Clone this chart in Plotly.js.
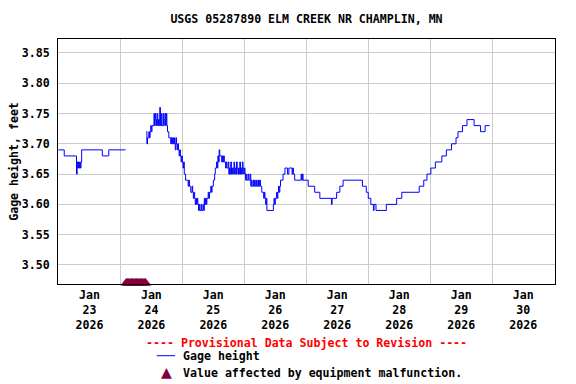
<!DOCTYPE html>
<html><head><meta charset="utf-8">
<script src="https://cdn.plot.ly/plotly-3.0.1.min.js"></script>
<style>html,body{margin:0;padding:0;background:#fff}#chart{width:576px;height:384px}</style>
</head><body><div id="chart"></div>
<script>
const chartTitle = "USGS 05287890 ELM CREEK NR CHAMPLIN, MN";
const yAxisTitle = "Gage height, feet";
const seriesName = "Gage height";
const malfunctionName = "Value affected by equipment malfunction.";
const provisionalNote = "---- Provisional Data Subject to Revision ----";

const times = [
"2026-01-22 12:00","2026-01-22 14:15","2026-01-22 19:00","2026-01-22 19:15","2026-01-22 19:30","2026-01-22 19:45","2026-01-22 20:00","2026-01-22 20:15","2026-01-22 20:30","2026-01-22 20:45","2026-01-22 21:00","2026-01-23 05:00","2026-01-23 07:30","2026-01-23 14:00","2026-01-23 14:15",
"2026-01-23 22:00","2026-01-23 22:15","2026-01-23 22:30","2026-01-23 23:00","2026-01-23 23:15","2026-01-23 23:30","2026-01-23 23:45",
"2026-01-24 00:00","2026-01-24 00:15","2026-01-24 01:00","2026-01-24 01:15","2026-01-24 01:30","2026-01-24 01:45","2026-01-24 02:00","2026-01-24 02:15","2026-01-24 02:30","2026-01-24 02:45","2026-01-24 03:00","2026-01-24 03:15","2026-01-24 03:30","2026-01-24 03:45","2026-01-24 04:00","2026-01-24 04:30","2026-01-24 04:45","2026-01-24 05:00","2026-01-24 05:15","2026-01-24 05:30","2026-01-24 05:45","2026-01-24 06:00","2026-01-24 06:15","2026-01-24 06:45","2026-01-24 07:30","2026-01-24 07:45","2026-01-24 08:00","2026-01-24 08:15","2026-01-24 08:30","2026-01-24 08:45","2026-01-24 09:00","2026-01-24 09:15","2026-01-24 09:30","2026-01-24 09:45","2026-01-24 10:00","2026-01-24 10:15","2026-01-24 10:30","2026-01-24 10:45","2026-01-24 11:00","2026-01-24 11:15","2026-01-24 11:30","2026-01-24 11:45","2026-01-24 12:00","2026-01-24 12:15","2026-01-24 12:30","2026-01-24 12:45","2026-01-24 13:15","2026-01-24 14:15","2026-01-24 14:30","2026-01-24 14:45","2026-01-24 15:15","2026-01-24 15:45","2026-01-24 16:00","2026-01-24 16:15","2026-01-24 16:30","2026-01-24 16:45","2026-01-24 17:00","2026-01-24 17:15","2026-01-24 17:30","2026-01-24 17:45","2026-01-24 18:00","2026-01-24 18:15","2026-01-24 18:30","2026-01-24 18:45","2026-01-24 19:15","2026-01-24 19:30","2026-01-24 20:00","2026-01-24 20:15","2026-01-24 20:30","2026-01-24 20:45","2026-01-24 21:00","2026-01-24 21:15","2026-01-24 21:30","2026-01-24 22:00","2026-01-24 22:15","2026-01-24 22:30","2026-01-24 23:00","2026-01-24 23:15","2026-01-24 23:30",
"2026-01-25 00:00","2026-01-25 00:30","2026-01-25 00:45","2026-01-25 01:15","2026-01-25 01:30","2026-01-25 01:45","2026-01-25 02:00","2026-01-25 02:15","2026-01-25 02:30","2026-01-25 03:15","2026-01-25 03:30","2026-01-25 03:45","2026-01-25 04:00","2026-01-25 04:15","2026-01-25 04:45","2026-01-25 05:00","2026-01-25 05:15","2026-01-25 05:45","2026-01-25 06:00","2026-01-25 06:15","2026-01-25 06:30","2026-01-25 06:45","2026-01-25 07:00","2026-01-25 07:15","2026-01-25 07:30","2026-01-25 07:45","2026-01-25 08:00","2026-01-25 08:15","2026-01-25 08:30","2026-01-25 08:45","2026-01-25 09:00","2026-01-25 09:15","2026-01-25 09:30","2026-01-25 09:45","2026-01-25 10:00","2026-01-25 10:15","2026-01-25 10:30","2026-01-25 10:45","2026-01-25 11:00","2026-01-25 11:15","2026-01-25 11:30","2026-01-25 11:45","2026-01-25 12:00","2026-01-25 12:15","2026-01-25 12:30","2026-01-25 12:45","2026-01-25 13:00","2026-01-25 13:30","2026-01-25 13:45","2026-01-25 14:15","2026-01-25 14:30","2026-01-25 14:45","2026-01-25 15:00","2026-01-25 15:30","2026-01-25 15:45","2026-01-25 16:00","2026-01-25 16:15","2026-01-25 16:45","2026-01-25 17:00","2026-01-25 17:30","2026-01-25 17:45","2026-01-25 18:00","2026-01-25 18:15","2026-01-25 18:45","2026-01-25 19:30","2026-01-25 19:45","2026-01-25 20:00","2026-01-25 20:15","2026-01-25 20:30","2026-01-25 20:45","2026-01-25 23:15","2026-01-25 23:30","2026-01-25 23:45",
"2026-01-26 00:00","2026-01-26 00:30","2026-01-26 00:45","2026-01-26 01:00","2026-01-26 01:15","2026-01-26 01:30","2026-01-26 01:45","2026-01-26 02:00","2026-01-26 03:00","2026-01-26 03:45","2026-01-26 04:45","2026-01-26 05:15","2026-01-26 06:30","2026-01-26 06:45","2026-01-26 07:00","2026-01-26 07:30","2026-01-26 10:00","2026-01-26 10:15","2026-01-26 10:30","2026-01-26 10:45","2026-01-26 12:45","2026-01-26 15:15","2026-01-26 17:15","2026-01-26 21:45","2026-01-26 22:00","2026-01-26 23:45",
"2026-01-27 01:00","2026-01-27 02:15","2026-01-27 09:45","2026-01-27 11:15","2026-01-27 12:00","2026-01-27 13:00","2026-01-27 14:00","2026-01-27 14:15","2026-01-27 15:00","2026-01-27 19:00","2026-01-27 23:00",
"2026-01-28 01:00","2026-01-28 07:45","2026-01-28 09:30","2026-01-28 10:45","2026-01-28 12:15","2026-01-28 14:00","2026-01-28 16:30","2026-01-28 18:15","2026-01-28 20:15","2026-01-28 22:00","2026-01-28 22:45",
"2026-01-29 00:30","2026-01-29 02:15","2026-01-29 05:00","2026-01-29 07:30","2026-01-29 09:15","2026-01-29 11:00"
];
const gageHeight = [
3.69,3.68,3.65,3.67,3.66,3.67,3.66,3.67,3.66,3.67,3.69,3.68,3.69,3.69,null,
3.72,3.70,3.71,3.72,3.71,3.72,3.73,
3.72,3.73,3.75,3.73,3.75,3.74,3.73,3.75,3.73,3.74,3.73,3.76,3.73,3.75,3.73,3.75,3.73,3.74,3.75,3.73,3.75,3.73,3.72,3.71,3.70,3.71,3.70,3.71,3.70,3.71,3.70,3.69,3.71,3.70,3.69,3.70,3.69,3.68,3.69,3.68,3.67,3.68,3.67,3.66,3.67,3.65,3.64,3.63,3.64,3.63,3.62,3.63,3.62,3.61,3.62,3.61,3.60,3.61,3.60,3.61,3.60,3.59,3.60,3.59,3.60,3.59,3.60,3.59,3.61,3.60,3.61,3.60,3.61,3.62,3.61,3.62,3.63,3.62,3.63,
3.64,3.65,3.66,3.67,3.66,3.68,3.67,3.69,3.68,3.67,3.68,3.67,3.68,3.67,3.66,3.67,3.66,3.67,3.65,3.66,3.65,3.67,3.65,3.66,3.65,3.66,3.67,3.65,3.66,3.65,3.67,3.66,3.65,3.66,3.65,3.67,3.65,3.66,3.65,3.67,3.66,3.65,3.66,3.65,3.64,3.65,3.64,3.65,3.64,3.65,3.63,3.64,3.63,3.64,3.63,3.64,3.63,3.64,3.63,3.64,3.63,3.64,3.63,3.62,3.61,3.62,3.61,3.60,3.61,3.59,3.60,3.61,3.60,
3.61,3.62,3.61,3.62,3.63,3.62,3.63,3.64,3.65,3.66,3.65,3.66,3.65,3.66,3.65,3.64,3.65,3.64,3.65,3.64,3.63,3.62,3.61,3.60,3.61,3.62,
3.63,3.64,3.63,3.62,3.61,3.60,3.59,3.60,3.59,3.60,3.61,
3.62,3.63,3.64,3.65,3.66,3.67,3.68,3.69,3.70,3.71,3.72,
3.73,3.74,3.73,3.72,3.73,3.73
];
const malfunctionTimes = ["2026-01-23 14:15","2026-01-23 14:45","2026-01-23 15:15","2026-01-23 15:45","2026-01-23 16:15","2026-01-23 16:45","2026-01-23 17:15","2026-01-23 17:45","2026-01-23 18:15","2026-01-23 18:45","2026-01-23 19:15","2026-01-23 19:45","2026-01-23 20:15","2026-01-23 20:45","2026-01-23 21:15","2026-01-23 21:45"];
const dayTicks = ["2026-01-23","2026-01-24","2026-01-25","2026-01-26","2026-01-27","2026-01-28","2026-01-29","2026-01-30"];
const dayTickText = ["Jan<br>23<br>2026","Jan<br>24<br>2026","Jan<br>25<br>2026","Jan<br>26<br>2026","Jan<br>27<br>2026","Jan<br>28<br>2026","Jan<br>29<br>2026","Jan<br>30<br>2026"];
const yTicks = [3.50,3.55,3.60,3.65,3.70,3.75,3.80,3.85];
const yTickText = ["3.50","3.55","3.60","3.65","3.70","3.75","3.80","3.85"];

const xRange = ["2026-01-22 11:50","2026-01-30 12:20"];
const yRange = [3.4686, 3.873];
const FONT = "DejaVu Sans Mono";
const FS = 11.6;
const malColor = "#800040";

const traces = [
  {x: times, y: gageHeight, type: "scatter", mode: "lines", line: {color: "#0000ff", width: 1, shape: "hv"}, connectgaps: false, name: seriesName, showlegend: false, hoverinfo: "skip"},
  {x: malfunctionTimes, y: malfunctionTimes.map(() => yRange[0] + 0.0017), type: "scatter", mode: "markers", marker: {symbol: "triangle-up", size: 10, color: malColor}, cliponaxis: false, name: malfunctionName, showlegend: false, hoverinfo: "skip"}
];

const f = (size, color, bold) => ({family: FONT, size: size, color: color || "#000", weight: bold === false ? "normal" : "bold"});

const layout = {
  width: 576, height: 384,
  margin: {l: 58, r: 21, t: 39, b: 100, pad: 0},
  paper_bgcolor: "#fff", plot_bgcolor: "#fff",
  showlegend: false,
  title: {text: chartTitle, font: f(FS), x: 0.5, xref: "paper", y: 1 - 19/384, yref: "container", yanchor: "middle"},
  xaxis: {
    type: "date", range: xRange, tickmode: "array", tickvals: dayTicks, ticktext: dayTickText,
    showgrid: false, ticks: "", tickfont: f(FS), showline: true, linecolor: "#000", linewidth: 1, mirror: true, zeroline: false,
    minor: {tick0: "2026-01-22 12:00", dtick: 86400000, showgrid: true, gridcolor: "#cccccc", gridwidth: 1, ticks: ""}
  },
  yaxis: {
    range: yRange, tickmode: "array", tickvals: yTicks, ticktext: yTickText, showgrid: true, gridcolor: "#cccccc", gridwidth: 1,
    ticks: "", tickfont: f(FS), ticklabelstandoff: 5, showline: true, linecolor: "#000", linewidth: 1, mirror: true, zeroline: false,
    title: {text: yAxisTitle, font: f(FS), standoff: 0}
  },
  shapes: [
    {type: "line", xref: "paper", yref: "paper", x0: (156.7-58)/497, x1: (175-58)/497, y0: (284-355.7)/245, y1: (284-355.7)/245, line: {color: "#0000ff", width: 1}}
  ],
  annotations: [
    {text: provisionalNote, xref: "paper", yref: "paper", x: 0.5, y: (284-343.3)/245, xanchor: "center", yanchor: "middle", showarrow: false, font: f(FS, "#ff0000")},
    {text: seriesName, xref: "paper", yref: "paper", x: (180.7-58)/497, y: (284-356)/245, xanchor: "left", yanchor: "middle", showarrow: false, font: f(FS)},
    {text: "\u25B2", xref: "paper", yref: "paper", x: (166.7-58)/497, y: (284-372)/245, xanchor: "center", yanchor: "middle", showarrow: false, font: f(18, malColor, false)},
    {text: malfunctionName, xref: "paper", yref: "paper", x: (180.7-58)/497, y: (284-373)/245, xanchor: "left", yanchor: "middle", showarrow: false, font: f(FS)}
  ]
};

Plotly.newPlot("chart", traces, layout, {staticPlot: true, displayModeBar: false});
</script></body></html>
